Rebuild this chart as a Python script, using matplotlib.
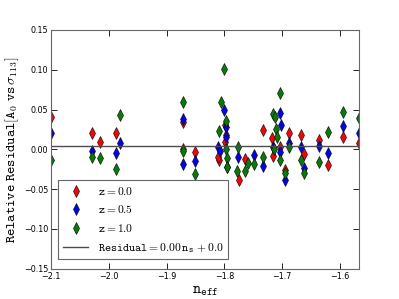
from matplotlib import pyplot as plt
import numpy as np

plt.rcParams['mathtext.fontset'] = 'cm'

# n_eff / residual pairs for each redshift
neff_z0 = [-2.100, -2.029, -2.016, -1.988, -1.871, -1.871, -1.851, -1.799, -1.797, -1.799,
           -1.810, -1.812, -1.775, -1.764, -1.733, -1.716, -1.717, -1.704, -1.689, -1.695,
           -1.668, -1.662, -1.636, -1.621, -1.595, -1.567]
res_z0 = [0.040, 0.021, 0.009, 0.021, 0.034, 0.001, -0.003, 0.030, 0.018, 0.0095,
          -0.013, -0.010, -0.039, -0.012, 0.024, -0.0085, 0.014, 0.003, 0.021, -0.026,
          0.018, -0.006, 0.012, -0.020, 0.016, 0.0075]

neff_z05 = [-2.100, -2.029, -1.981, -1.988, -1.871, -1.871, -1.851, -1.800, -1.797, -1.797,
            -1.811, -1.808, -1.795, -1.776, -1.748, -1.733, -1.704, -1.703, -1.716, -1.704,
            -1.695, -1.689, -1.668, -1.662, -1.636, -1.621, -1.595, -1.567]
res_z05 = [0.021, -0.002, 0.008, -0.005, 0.038, -0.019, -0.015, 0.049, 0.028, 0.015,
           0.003, -0.002, -0.022, -0.009, -0.007, -0.021, 0.046, 0.030, 0.003, -0.003,
           -0.038, 0.0075, 0.003, -0.024, 0.0045, -0.005, 0.029, 0.020]

neff_z1 = [-2.100, -2.029, -2.016, -1.981, -1.988, -1.871, -1.871, -1.851, -1.800, -1.806,
           -1.797, -1.810, -1.797, -1.796, -1.796, -1.776, -1.779, -1.764, -1.759, -1.748,
           -1.733, -1.704, -1.716, -1.712, -1.710, -1.709, -1.714, -1.704, -1.695, -1.689,
           -1.668, -1.662, -1.636, -1.621, -1.595, -1.567]
res_z1 = [-0.014, -0.010, -0.011, 0.043, -0.025, 0.059, -0.002, -0.031, 0.101, 0.060,
          0.035, 0.023, 0.000, -0.011, -0.022, 0.003, -0.027, -0.027, -0.017, -0.018,
          -0.009, 0.071, 0.045, 0.041, 0.025, 0.016, 0.001, -0.0135, -0.030, 0.003,
          -0.0135, -0.030, -0.0165, 0.0213, 0.047, 0.039]

slope, intercept = 0.00, 0.004

if __name__ == '__main__':
    fig = plt.figure(figsize=(3.99, 2.99), dpi=100)
    ax = fig.add_axes([0.128, 0.101, 0.772, 0.799])
    ax.plot(neff_z0, res_z0, 'd', color='red', mec='k', mew=0.4, ms=5.8, label=r'$\mathtt{z}=0.0$')
    ax.plot(neff_z05, res_z05, 'd', color='blue', mec='k', mew=0.4, ms=5.8, label=r'$\mathtt{z}=0.5$')
    ax.plot(neff_z1, res_z1, 'd', color='green', mec='k', mew=0.4, ms=5.8, label=r'$\mathtt{z}=1.0$')
    xs = np.array([-2.2, -1.5])
    ax.plot(xs, slope * xs + intercept, color='0.3', lw=1,
            label=r'$\mathtt{Residual}=0.00\,\mathtt{n_s}\,+0.0$')
    ax.set_xlim(-2.1, -1.567)
    ax.set_ylim(-0.15, 0.15)
    ax.set_xticks(np.arange(-2.1, -1.55, 0.1))
    ax.set_yticks(np.arange(-0.15, 0.151, 0.05))
    ax.tick_params(direction='in', top=True, right=True, labelsize=5.8, length=4, width=0.6, pad=2)
    for s in ax.spines.values():
        s.set_color('0.4')
    ax.set_xlabel(r'$\mathtt{n_{eff}}$', fontsize=11, labelpad=2)
    ax.set_ylabel(r'$\mathtt{Relative\ Residual}[\mathtt{A_0\ vs}\,\sigma_{113}]$', fontsize=10, labelpad=2)
    leg = ax.legend(loc='lower left', bbox_to_anchor=(0.005, 0.015), numpoints=1, fontsize=8.3,
                    fancybox=False, framealpha=1, edgecolor='0.4', borderpad=0.4,
                    labelspacing=0.5, handlelength=2.2)
    leg.get_frame().set_linewidth(0.8)
    plt.savefig('out.png', dpi=100)
